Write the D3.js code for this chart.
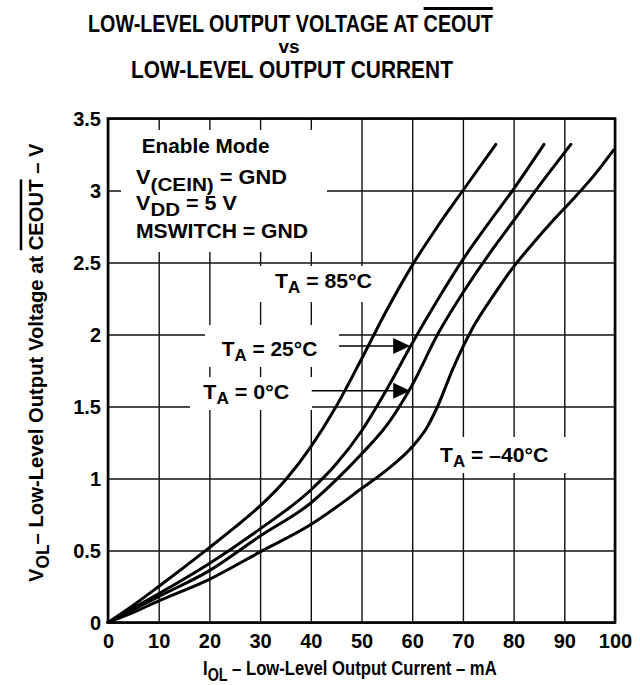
<!DOCTYPE html>
<html><head><meta charset="utf-8">
<script src="https://cdn.jsdelivr.net/npm/d3@7"></script>
<style>
body{margin:0;background:#fff}
svg{display:block}
text{font-family:"Liberation Sans",Arial,Helvetica,sans-serif;font-weight:bold;fill:#000}
</style>
</head><body>
<svg id="c" width="640" height="685"></svg>
<script>
// ---------- data ----------
const xTicks = [0,10,20,30,40,50,60,70,80,90,100];
const xTickLabels = ["0","10","20","30","40","50","60","70","80","90","100"];
const yTicks = [0,0.5,1,1.5,2,2.5,3,3.5];
const yTickLabels = ["0","0.5","1","1.5","2","2.5","3","3.5"];

const seriesNames = ["85", "25", "0", "–40"];
const i85 = [0, 5, 10, 20, 25, 30, 35, 40, 45, 50, 55, 60, 65, 70, 76.5];
const v85 = [0, 0.12, 0.25, 0.52, 0.66, 0.81, 0.99, 1.22, 1.50, 1.83, 2.17, 2.48, 2.75, 3.0, 3.32];
const i25 = [0, 5, 10, 20, 30, 40, 45, 50, 55, 60, 65, 70, 75, 80, 86];
const v25 = [0, 0.10, 0.20, 0.41, 0.65, 0.92, 1.10, 1.33, 1.62, 1.94, 2.24, 2.52, 2.77, 3.01, 3.32];
const i0 = [0, 5, 10, 20, 30, 40, 45, 50, 55, 58, 60, 65, 70, 75, 80, 85, 91.3];
const v0 = [0, 0.09, 0.18, 0.36, 0.60, 0.83, 0.99, 1.17, 1.37, 1.53, 1.65, 2.0, 2.29, 2.55, 2.79, 3.03, 3.32];
const iM40 = [0, 5, 10, 20, 30, 40, 45, 50, 55, 60, 63, 65, 68, 72, 76, 80, 84, 88, 92, 96, 99.7];
const vM40 = [0, 0.07, 0.15, 0.30, 0.49, 0.68, 0.80, 0.93, 1.06, 1.22, 1.36, 1.50, 1.76, 2.05, 2.27, 2.47, 2.64, 2.80, 2.95, 3.11, 3.28];
// arrow targets (data units)
const arrow25 = [59.6, 1.92];
const arrow0 = [59.6, 1.61];

// ---------- layout ----------
const svg = d3.select("#c");
const x = d3.scaleLinear().domain([0,100]).range([108, 615]);
const y = d3.scaleLinear().domain([0,3.5]).range([622.5, 118.5]);
const X0 = x.range()[0], X1 = x.range()[1], Y0 = y.range()[0], Y1 = y.range()[1];

const gx = svg.append("g").attr("transform", `translate(0,${Y0})`)
  .call(d3.axisBottom(x).tickValues(xTicks).tickFormat((d,i)=>xTickLabels[i])
        .tickSize(-(Y0-Y1)).tickPadding(11));
const gy = svg.append("g").attr("transform", `translate(${X0},0)`)
  .call(d3.axisLeft(y).tickValues(yTicks).tickFormat((d,i)=>yTickLabels[i])
        .tickSize(-(X1-X0)).tickPadding(7));
[gx, gy].forEach(g => {
  g.select(".domain").remove();
  g.selectAll(".tick line").attr("stroke", "#111").attr("stroke-width", 1.4);
  g.selectAll(".tick text").style("font-size", "20px").style("font-family", '"Liberation Sans",Arial,sans-serif').style("font-weight","bold").attr("fill","#000");
});
gy.selectAll(".tick text").attr("dy", "0.35em");

// white boxes behind annotations (break the grid)
const boxes = [
  [121, 130, 206, 122],
  [255, 266, 122, 36],
  [205, 325, 134, 42],
  [190, 377, 122, 33],
  [425, 437, 147, 36]
];
svg.append("g").selectAll("rect").data(boxes).join("rect")
  .attr("x", d=>d[0]).attr("y", d=>d[1]).attr("width", d=>d[2]).attr("height", d=>d[3])
  .attr("fill", "#fff");

// curves
const series = [
  {name: seriesNames[0], I: i85, V: v85},
  {name: seriesNames[1], I: i25, V: v25},
  {name: seriesNames[2], I: i0, V: v0},
  {name: seriesNames[3], I: iM40, V: vM40}
];
const line = d3.line().x(d=>x(d[0])).y(d=>y(d[1])).curve(d3.curveMonotoneX);
svg.append("g").selectAll("path").data(series).join("path")
  .attr("d", s => line(s.I.map((v,i)=>[v, s.V[i]])))
  .attr("fill", "none").attr("stroke", "#000").attr("stroke-width", 3)
  .attr("stroke-linejoin","round").attr("stroke-linecap","round");

// frame
svg.append("rect").attr("x", X0).attr("y", Y1).attr("width", X1-X0).attr("height", Y0-Y1)
  .attr("fill","none").attr("stroke","#000").attr("stroke-width",2.6);

// ---------- rich text helper ----------
function richText(parent, o) {
  const g = parent.append("g").attr("transform", `translate(${o.x},${o.y})` + (o.rotate ? ` rotate(${o.rotate})` : ""));
  const inner = g.append("g");
  const t = inner.append("text").attr("x", 0).attr("y", 0).style("font-size", o.size + "px");
  let shift = 0, idx = 0;
  const overs = [];
  o.parts.forEach(([str, kind]) => {
    const ts = t.append("tspan").text(str);
    const target = kind === "sub" ? (o.subDy || 0) : 0;
    ts.attr("dy", target - shift);
    shift = target;
    if (kind === "sub") ts.style("font-size", (o.subSize || o.size) + "px");
    if (kind === "over") overs.push([idx, idx + str.length - 1]);
    idx += str.length;
  });
  const node = t.node();
  const w = node.getComputedTextLength();
  const sx = o.width ? o.width / w : 1;
  inner.attr("transform", `scale(${sx},1)`);
  overs.forEach(([a, b]) => {
    const xa = node.getStartPositionOfChar(a).x;
    const xb = node.getEndPositionOfChar(b).x;
    inner.append("line").attr("x1", xa).attr("x2", xb)
      .attr("y1", -o.overOff).attr("y2", -o.overOff)
      .attr("stroke", "#000").attr("stroke-width", o.overW || 2.5);
  });
  return g;
}

// title
richText(svg, {x: 88, y: 32, size: 23, width: 405, overOff: 23.5, overW: 3,
  parts: [["LOW-LEVEL OUTPUT VOLTAGE AT ", "n"], ["CEOUT", "over"]]});
svg.append("text").attr("x", 289).attr("y", 53).attr("text-anchor","middle").style("font-size","19px").text("vs");
richText(svg, {x: 131, y: 78, size: 23, width: 322,
  parts: [["LOW-LEVEL OUTPUT CURRENT", "n"]]});

// axis titles
richText(svg, {x: 203, y: 675, size: 21, subSize: 18, subDy: 6, width: 294,
  parts: [["I", "n"], ["OL", "sub"], [" – Low-Level Output Current – mA", "n"]]});
richText(svg, {x: 43, y: 582, rotate: -90, size: 21, subSize: 18, subDy: 6, width: 439, overOff: 22, overW: 2.5,
  parts: [["V", "n"], ["OL", "sub"], ["– Low-Level Output Voltage at ", "n"], ["CEOUT", "over"], [" – V", "n"]]});

// annotations
const ann = svg.append("g");
richText(ann, {x: 141.7, y: 153, size: 20, width: 128, parts: [["Enable Mode", "n"]]});
richText(ann, {x: 136, y: 184, size: 20, subSize: 19, subDy: 7, width: 151,
  parts: [["V", "n"], ["(CEIN)", "sub"], [" = GND", "n"]]});
richText(ann, {x: 136, y: 210, size: 20, subSize: 19, subDy: 6, width: 101,
  parts: [["V", "n"], ["DD", "sub"], [" = 5 V", "n"]]});
richText(ann, {x: 136, y: 238, size: 20, width: 172, parts: [["MSWITCH = GND", "n"]]});

const tLabels = [
  {x: 275, y: 288, w: 97, t: seriesNames[0]},
  {x: 221.7, y: 356, w: 95.6, t: seriesNames[1]},
  {x: 203.3, y: 399.3, w: 86, t: seriesNames[2]},
  {x: 440, y: 461.7, w: 108.3, t: seriesNames[3]}
];
tLabels.forEach(l => richText(ann, {x: l.x, y: l.y, size: 20, subSize: 16, subDy: 5, width: l.w,
  parts: [["T", "n"], ["A", "sub"], [" = " + l.t + "°C", "n"]]}));

// arrows
function arrow(x0px, target) {
  const tx = x(target[0]), ty = y(target[1]);
  ann.append("line").attr("x1", x0px).attr("x2", tx - 12).attr("y1", ty).attr("y2", ty)
    .attr("stroke", "#000").attr("stroke-width", 1.5);
  ann.append("path").attr("d", `M${tx},${ty} L${tx-17},${ty-8} L${tx-17},${ty+8} Z`).attr("fill", "#000");
}
arrow(339, arrow25);
arrow(311.7, arrow0);
</script>
</body></html>
